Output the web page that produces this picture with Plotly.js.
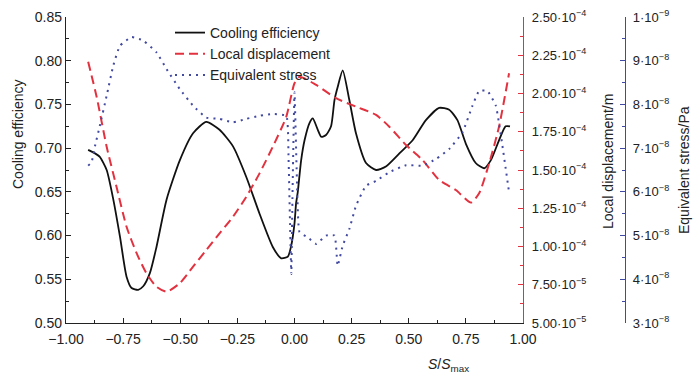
<!DOCTYPE html>
<html>
<head>
<meta charset="utf-8">
<script src="https://cdn.plot.ly/plotly-3.0.1.min.js"></script>
<style>html,body{margin:0;padding:0;background:#fff;}#chart{width:693px;height:376px;}</style>
</head>
<body>
<div id="chart"></div>
<script>
// S/Smax positions and values
const xCool = [-0.903,-0.873,-0.852,-0.822,-0.795,-0.764,-0.735,-0.713,-0.684,-0.662,-0.633,-0.604,-0.560,-0.502,-0.444,-0.386,-0.328,-0.269,-0.211,-0.153,-0.095,-0.058,-0.029,-0.014,0.000,0.007,0.014,0.029,0.044,0.066,0.080,0.102,0.117,0.138,0.160,0.175,0.189,0.211,0.240,0.269,0.313,0.357,0.400,0.459,0.517,0.575,0.633,0.677,0.713,0.750,0.793,0.830,0.859,0.895,0.924,0.943];
const coolingEfficiency = [0.698,0.694,0.690,0.675,0.644,0.599,0.553,0.540,0.538,0.542,0.557,0.587,0.641,0.686,0.717,0.730,0.721,0.702,0.667,0.625,0.587,0.574,0.576,0.589,0.614,0.637,0.649,0.686,0.709,0.729,0.734,0.721,0.713,0.715,0.725,0.755,0.770,0.789,0.755,0.717,0.683,0.675,0.679,0.694,0.709,0.732,0.746,0.744,0.732,0.705,0.683,0.677,0.686,0.709,0.725,0.725];

const xDisp = [-0.903,-0.866,-0.822,-0.779,-0.735,-0.691,-0.648,-0.604,-0.560,-0.502,-0.444,-0.386,-0.328,-0.269,-0.211,-0.153,-0.095,-0.036,0.000,0.022,0.095,0.182,0.269,0.357,0.415,0.488,0.560,0.633,0.706,0.772,0.808,0.852,0.895,0.939];
// local displacement in units of 1e-4 m
const displacementE4 = [2.208,1.979,1.652,1.391,1.129,0.956,0.825,0.737,0.705,0.760,0.868,0.977,1.086,1.195,1.325,1.478,1.652,1.848,2.067,2.110,2.056,1.969,1.914,1.860,1.783,1.663,1.565,1.435,1.369,1.287,1.348,1.544,1.783,2.132];

const xStress = [-0.903,-0.888,-0.873,-0.852,-0.822,-0.793,-0.764,-0.713,-0.662,-0.604,-0.560,-0.502,-0.444,-0.386,-0.328,-0.269,-0.211,-0.153,-0.095,-0.036,-0.026,-0.020,-0.014,-0.009,0.000,0.007,0.013,0.022,0.058,0.095,0.138,0.175,0.189,0.211,0.240,0.269,0.313,0.357,0.415,0.488,0.560,0.619,0.677,0.735,0.779,0.808,0.844,0.881,0.910,0.939];
// equivalent stress in units of 1e-8 Pa
const stressE8 = [6.60,6.68,7.05,7.51,8.20,8.89,9.34,9.54,9.46,9.19,8.81,8.35,7.97,7.70,7.67,7.59,7.67,7.74,7.78,7.74,6.75,5.38,4.12,5.84,8.28,6.98,5.84,5.08,4.96,4.81,5.00,5.00,4.31,4.77,5.15,5.68,6.14,6.25,6.45,6.61,6.60,6.75,6.98,7.36,7.97,8.31,8.31,7.97,7.05,5.99];

const seriesNames = ["Cooling efficiency", "Local displacement", "Equivalent stress"];

const xTickVals = [-1,-0.75,-0.5,-0.25,0,0.25,0.5,0.75,1];
const dispTickVals = [5e-5,7.5e-5,1e-4,1.25e-4,1.5e-4,1.75e-4,2e-4,2.25e-4,2.5e-4];
const dispTickText = ["5.00·10<sup>−5</sup>","7.50·10<sup>−5</sup>","1.00·10<sup>−4</sup>","1.25·10<sup>−4</sup>","1.50·10<sup>−4</sup>","1.75·10<sup>−4</sup>","2.00·10<sup>−4</sup>","2.25·10<sup>−4</sup>","2.50·10<sup>−4</sup>"];
const stressTickVals = [3e-8,4e-8,5e-8,6e-8,7e-8,8e-8,9e-8,1e-7];
const stressTickText = ["3·10<sup>−8</sup>","4·10<sup>−8</sup>","5·10<sup>−8</sup>","6·10<sup>−8</sup>","7·10<sup>−8</sup>","8·10<sup>−8</sup>","9·10<sup>−8</sup>","1·10<sup>−9</sup>"];

const RED = "#e2323f";
const BLUE = "#4249a0";
const FONT = "Liberation Sans, Arial, sans-serif";
const FS = 14;
const FS_R = 13;

const traces = [
  {x: xCool, y: coolingEfficiency, name: seriesNames[0], type: "scatter", mode: "lines",
   line: {color: "#111", width: 1.8, shape: "spline", smoothing: 0.6}, yaxis: "y"},
  {x: xDisp, y: displacementE4.map(v => v * 1e-4), name: seriesNames[1], type: "scatter", mode: "lines",
   line: {color: RED, width: 2, dash: "9px,5px", shape: "spline", smoothing: 0.6}, yaxis: "y2"},
  {x: xStress, y: stressE8.map(v => v * 1e-8), name: seriesNames[2], type: "scatter", mode: "lines",
   line: {color: BLUE, width: 2, dash: "2px,5px", shape: "spline", smoothing: 0.4}, yaxis: "y3"}
];

const L = 66, R = 60, W = 693, H = 376, T = 17, B = 53;
const pw = W - L - R, ph = H - T - B;
const xRight = 523;
const px = v => (v - L) / pw;
const py = v => 1 - (v - T) / ph;

const layout = {
  width: W, height: H,
  margin: {l: L, r: R, t: T, b: B, pad: 0},
  paper_bgcolor: "#fff", plot_bgcolor: "#fff",
  font: {family: FONT, size: FS, color: "#222"},
  showlegend: true,
  legend: {x: px(170), y: py(17), xanchor: "left", yanchor: "top", bgcolor: "rgba(0,0,0,0)",
           font: {family: FONT, size: FS, color: "#222"}, tracegroupgap: 0},
  xaxis: {domain: [0, px(xRight)], range: [-1, 1], tickvals: xTickVals, tickformat: ".2f",
          ticks: "inside", ticklen: 5, tickwidth: 1, tickcolor: "#222",
          minor: {dtick: 0.125, tick0: 0, ticks: "inside", ticklen: 3, tickcolor: "#222"},
          showline: true, linecolor: "#222", linewidth: 1.2, showgrid: false, zeroline: false,
          anchor: "y", ticklabelstandoff: 3},
  yaxis: {range: [0.5, 0.85], dtick: 0.05, tick0: 0.5, tickformat: ".2f",
          ticks: "inside", ticklen: 5, tickcolor: "#222",
          minor: {dtick: 0.025, ticks: "inside", ticklen: 3, tickcolor: "#222"},
          showline: true, linecolor: "#222", linewidth: 1.2, showgrid: false, zeroline: false,
          anchor: "x"},
  yaxis2: {overlaying: "y", side: "right", anchor: "x", range: [5e-5, 2.5e-4],
           tickvals: dispTickVals, ticktext: dispTickText, tickfont: {size: FS_R},
           ticks: "inside", ticklen: 5, tickcolor: RED,
           minor: {tickvals: [6.25e-5,8.75e-5,1.125e-4,1.375e-4,1.625e-4,1.875e-4,2.125e-4,2.375e-4], ticks: "inside", ticklen: 3, tickcolor: RED},
           showline: true, linecolor: RED, linewidth: 1.2, showgrid: false, zeroline: false,
           ticklabelstandoff: 5},
  yaxis3: {overlaying: "y", side: "right", anchor: "free", position: px(625), range: [3e-8, 1e-7],
           tickvals: stressTickVals, ticktext: stressTickText, tickfont: {size: FS_R},
           ticks: "inside", ticklen: 5, tickcolor: BLUE,
           minor: {tickvals: [3.5e-8,4.5e-8,5.5e-8,6.5e-8,7.5e-8,8.5e-8,9.5e-8], ticks: "inside", ticklen: 3, tickcolor: BLUE},
           showline: true, linecolor: BLUE, linewidth: 1.2, showgrid: false, zeroline: false,
           ticklabelstandoff: 4},
  annotations: [
    {text: "Cooling efficiency", xref: "paper", yref: "paper", x: px(18), y: py(135),
     textangle: -90, showarrow: false, xanchor: "center", yanchor: "middle", font: {size: FS, color: "#222"}},
    {text: "Local displacement/m", xref: "paper", yref: "paper", x: px(608), y: py(162),
     textangle: -90, showarrow: false, xanchor: "center", yanchor: "middle", font: {size: FS, color: "#222"}},
    {text: "Equivalent stress/Pa", xref: "paper", yref: "paper", x: px(684), y: py(170),
     textangle: -90, showarrow: false, xanchor: "center", yanchor: "middle", font: {size: FS, color: "#222"}},
    {text: "<i>S</i>/<i>S</i><sub>max</sub>", xref: "paper", yref: "paper", x: px(448), y: py(365),
     showarrow: false, xanchor: "center", yanchor: "middle", font: {size: FS, color: "#222"}}
  ]
};

Plotly.newPlot("chart", traces, layout, {displayModeBar: false, staticPlot: true});
</script>
</body>
</html>
